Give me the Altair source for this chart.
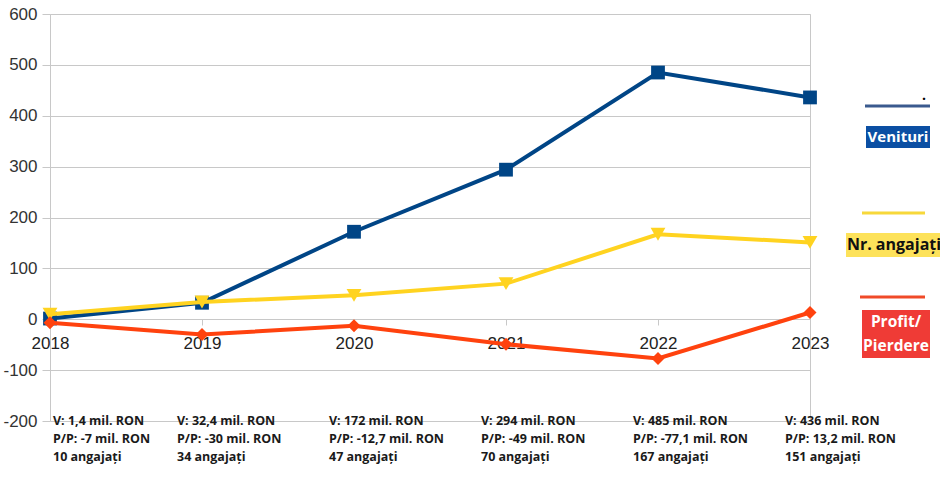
import altair as alt
import pandas as pd

years = ["2018", "2019", "2020", "2021", "2022", "2023"]
venituri = [1.4, 32.4, 172, 294, 485, 436]
angajati = [10, 34, 47, 70, 167, 151]
profit = [-7, -30, -12.7, -49, -77.1, 13.2]
y_ticks = [-200, -100, 0, 100, 200, 300, 400, 500, 600]

C_V = "#004586"
C_A = "#ffd320"
C_P = "#ff420e"
GRID = "#c8c8c8"


def ro(v):
    return f"{v:g}".replace(".", ",")


df = pd.DataFrame({"year": years, "venituri": venituri, "angajati": angajati, "profit": profit})
df["note"] = [
    f"V: {ro(v)} mil. RON\nP/P: {ro(p)} mil. RON\n{a} angajați"
    for v, p, a in zip(venituri, profit, angajati)
]

x_enc = alt.X(
    "year:O",
    scale=alt.Scale(type="point", padding=0),
    axis=alt.Axis(
        title=None, labelFont="Liberation Sans", labelFontSize=17, labelColor="#222",
        labelAngle=0, domain=False, grid=False, ticks=True, tickSize=6, tickColor=GRID,
        labelPadding=10, offset=-102,
    ),
)


def y_enc(field):
    return alt.Y(
        f"{field}:Q",
        scale=alt.Scale(domain=[-200, 600], nice=False),
        axis=alt.Axis(
            title=None, values=y_ticks, labelFont="Liberation Sans", labelFontSize=17,
            labelColor="#333", domain=False, gridColor=GRID, tickColor=GRID,
            tickSize=8, labelPadding=5, labelExpr="toString(datum.value)",
        ),
    )


base = alt.Chart(df)


def series(field, color, shape, size):
    line = base.mark_line(color=color, strokeWidth=4).encode(x=x_enc, y=y_enc(field))
    pts = base.mark_point(shape=shape, filled=True, opacity=1, color=color, size=size).encode(
        x=x_enc, y=y_enc(field)
    )
    return [line, pts]


layers = []
layers += series("venituri", C_V, "square", 190)
layers += series("angajati", C_A, "triangle-down", 220)
layers += series("profit", C_P, "diamond", 170)

note_style = dict(align="left", baseline="top", font="Open Sans", fontWeight="bold",
                  fontSize=12.5, color="#1a1a1a", lineBreak="\n", lineHeight=18, dy=-6)
notes_first = base.transform_filter(alt.datum.year == years[0]).mark_text(dx=3, **note_style).encode(
    x=x_enc, y=alt.datum(-200), text="note:N"
)
notes_rest = base.transform_filter(alt.datum.year != years[0]).mark_text(dx=-25, **note_style).encode(
    x=x_enc, y=alt.datum(-200), text="note:N"
)
layers += [notes_first, notes_rest]


# custom legend
def one(label):
    return alt.Chart(alt.Data(values=[{"t": label}]))


leg = []
leg.append(one("Venituri").mark_rule(color="#3a5a8e", strokeWidth=3).encode(
    x=alt.value(815), x2=alt.value(880), y=alt.value(92)))
leg.append(one(".").mark_text(font="Open Sans", fontWeight="bold", fontSize=14, color="#000").encode(
    x=alt.value(874), y=alt.value(82), text="t:N"))
leg.append(one("Venituri").mark_rect(color="#0b4fa3").encode(
    x=alt.value(816), x2=alt.value(880), y=alt.value(112), y2=alt.value(134)))
leg.append(one("Venituri").mark_text(font="Open Sans", fontWeight="bold", fontSize=15, color="white").encode(
    x=alt.value(848), y=alt.value(123), text="t:N"))

leg.append(one("Nr. angajați").mark_rule(color="#f7d83a", strokeWidth=3).encode(
    x=alt.value(812), x2=alt.value(875), y=alt.value(199)))
leg.append(one("Nr. angajați").mark_rect(color="#fde25a").encode(
    x=alt.value(796), x2=alt.value(892), y=alt.value(219), y2=alt.value(243)))
leg.append(one("Nr. angajați").mark_text(font="Open Sans", fontWeight="bold", fontSize=16, color="#111").encode(
    x=alt.value(844), y=alt.value(231), text="t:N"))

leg.append(one("Profit/Pierdere").mark_rule(color="#f04a28", strokeWidth=3).encode(
    x=alt.value(810), x2=alt.value(875), y=alt.value(283)))
leg.append(one("Profit/Pierdere").mark_rect(color="#ef3b36").encode(
    x=alt.value(812), x2=alt.value(880), y=alt.value(296), y2=alt.value(344)))
leg.append(one("Profit/\nPierdere").mark_text(font="Open Sans", fontWeight="bold", fontSize=15.5,
                                               color="white", lineBreak="\n", lineHeight=24).encode(
    x=alt.value(846), y=alt.value(308), text="t:N"))

layers += leg

chart = alt.layer(*layers).properties(
    width=760, height=407,
    autosize=alt.AutoSizeParams(type="none"),
    padding={"left": 50, "top": 14, "right": 130, "bottom": 59},
    background="white",
).configure_view(stroke=GRID, strokeWidth=1)

chart.save("out.html", embed_options={"renderer": "svg", "actions": False})
